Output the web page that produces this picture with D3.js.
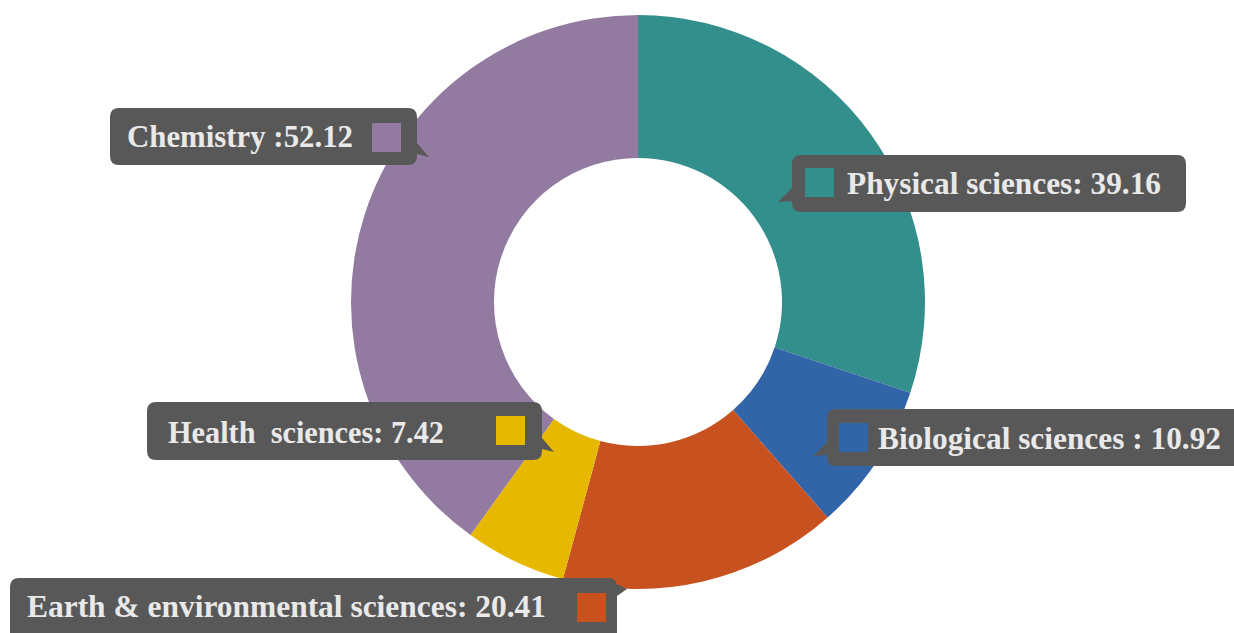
<!DOCTYPE html>
<html>
<head>
<meta charset="utf-8">
<script src="https://cdn.jsdelivr.net/npm/d3@7"></script>
<style>
html,body{margin:0;padding:0;background:#fff;}
svg{display:block;}
</style>
</head>
<body>
<svg id="chart" width="1234" height="633"></svg>
<script>
const categories = ["Physical sciences", "Biological sciences", "Earth & environmental sciences", "Health sciences", "Chemistry"];
const values = [39.16, 10.92, 20.41, 7.42, 52.12];
const labels = ["Physical sciences: 39.16", "Biological sciences : 10.92", "Earth & environmental sciences: 20.41", "Health\u00a0 sciences: 7.42", "Chemistry :52.12"];
const colors = ["#338f8c", "#3264a8", "#c8521f", "#e6b800", "#927aa0"];

// layout for callouts (box, text, swatch, pointer side)
const layout = [
  {box:[792,155,394,57], tx:847, ty:194, tw:314, sw:[805,168], ptr:"left"},
  {box:[827,409,420,57], tx:878, ty:449, tw:343, sw:[839,423], ptr:"left"},
  {box:[10,578,607,70],  tx:27,  ty:617, tw:519, sw:[577,593], ptr:"rightTop"},
  {box:[147,402,395,58], tx:168, ty:443, tw:276, sw:[496,416], ptr:"right"},
  {box:[110,108,307,57], tx:127, ty:147, tw:226, sw:[372,123], ptr:"right"}
];

const svg = d3.select("#chart");
const cx = 638, cy = 302, rOuter = 287, rInner = 144;

const pie = d3.pie().sort(null).value(d => d);
const arcs = pie(values);
const arc = d3.arc().innerRadius(rInner).outerRadius(rOuter);
const color = d3.scaleOrdinal().domain(categories).range(colors);

svg.append("g").attr("transform", `translate(${cx},${cy})`)
  .selectAll("path").data(arcs).enter().append("path")
  .attr("d", arc)
  .attr("fill", (d,i) => color(categories[i]));

function calloutPath(L){
  const [x,y,w,h] = L.box, r = 9;
  let p = d3.path();
  p.moveTo(x+r, y);
  p.lineTo(x+w-r, y);
  p.quadraticCurveTo(x+w, y, x+w, y+r);
  if (L.ptr === "rightTop") {
    p.lineTo(x+w, y+6); p.lineTo(x+w+10, y+11); p.lineTo(x+w, y+18);
  }
  if (L.ptr === "right") {
    p.lineTo(x+w, y+h-22); p.lineTo(x+w+12, y+h-8); p.lineTo(x+w, y+h-11);
  }
  p.lineTo(x+w, y+h-r);
  p.quadraticCurveTo(x+w, y+h, x+w-r, y+h);
  p.lineTo(x+r, y+h);
  p.quadraticCurveTo(x, y+h, x, y+h-r);
  if (L.ptr === "left") {
    p.lineTo(x, y+h-11); p.lineTo(x-14, y+h-10); p.lineTo(x, y+h-24);
  }
  p.lineTo(x, y+r);
  p.quadraticCurveTo(x, y, x+r, y);
  p.closePath();
  return p.toString();
}

const g = svg.append("g");
layout.forEach((L,i) => {
  g.append("path").attr("d", calloutPath(L)).attr("fill", "#585858");
  g.append("rect").attr("x", L.sw[0]).attr("y", L.sw[1]).attr("width", 29).attr("height", 29)
    .attr("fill", color(categories[i]));
  g.append("text").attr("x", L.tx).attr("y", L.ty)
    .attr("font-family", "'Liberation Serif','Times New Roman',serif")
    .attr("font-weight", "bold").attr("font-size", 30.5)
    .attr("fill", "#e9e9e9")
    .attr("textLength", L.tw).attr("lengthAdjust", "spacingAndGlyphs")
    .text(labels[i]);
});
</script>
</body>
</html>
